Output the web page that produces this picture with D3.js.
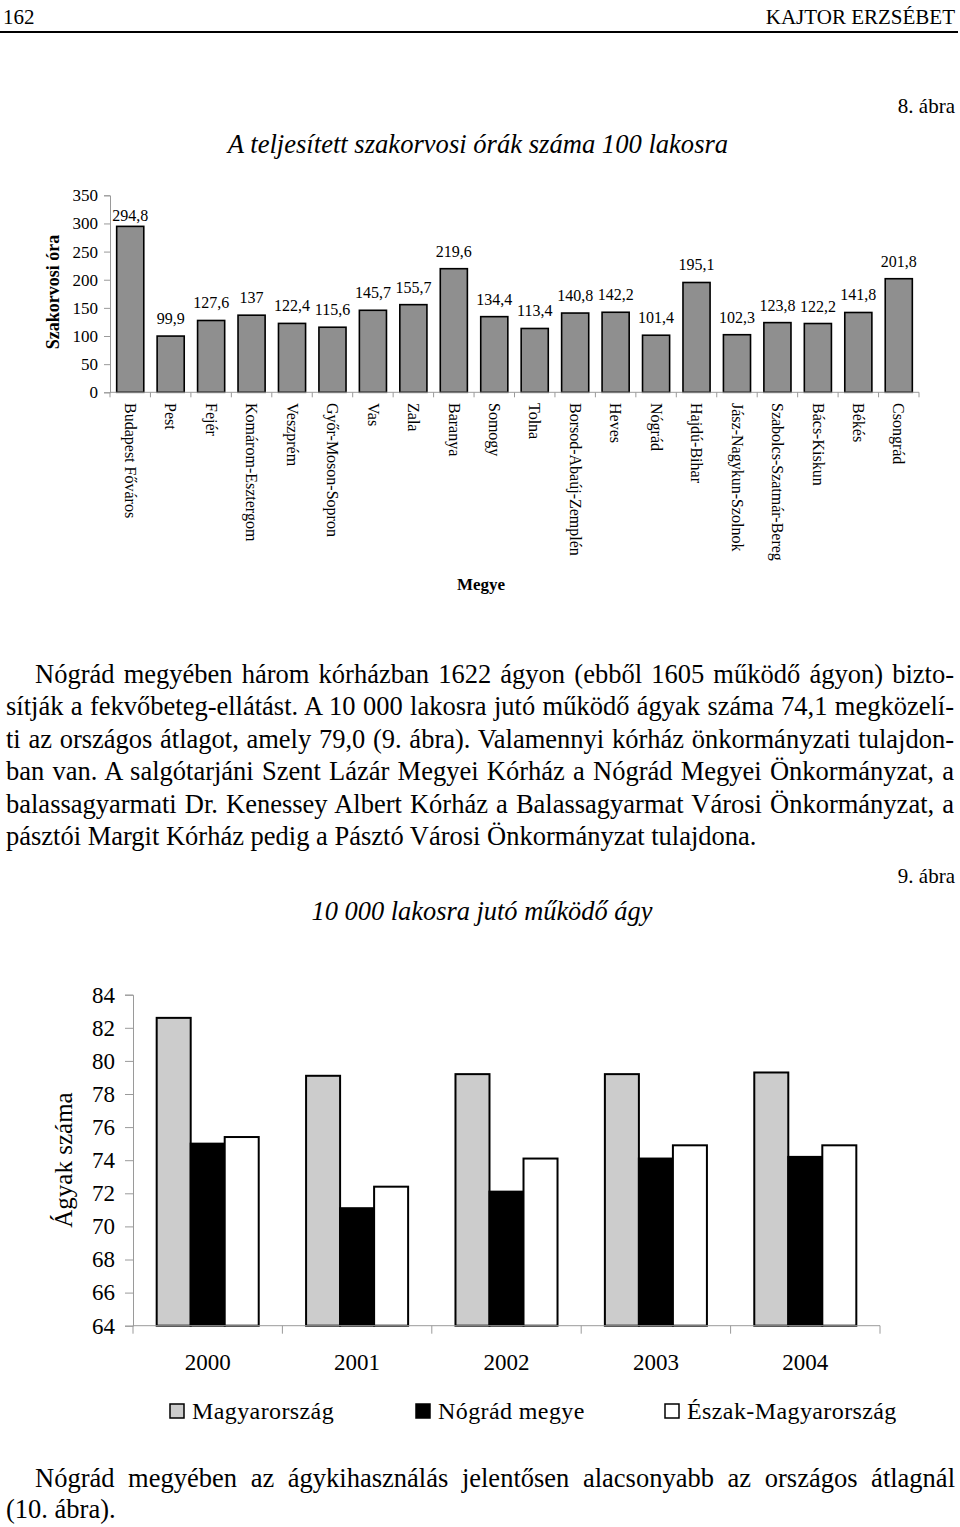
<!DOCTYPE html>
<html>
<head>
<meta charset="utf-8">
<script src="https://cdn.jsdelivr.net/npm/d3@7"></script>
<style>
  body { margin: 0; background: #fff; }
  svg { display: block; }
  text { font-family: "Liberation Serif", "Times New Roman", serif; fill: #000; }
</style>
</head>
<body>
<div id="page"></div>
<script>
const width = 960,
      height = 1527;

// 8. ábra data
const counties = ["Budapest Főváros", "Pest", "Fejér", "Komárom-Esztergom", "Veszprém",
                  "Győr-Moson-Sopron", "Vas", "Zala", "Baranya", "Somogy", "Tolna",
                  "Borsod-Abaúj-Zemplén", "Heves", "Nógrád", "Hajdú-Bihar",
                  "Jász-Nagykun-Szolnok", "Szabolcs-Szatmár-Bereg", "Bács-Kiskun", "Békés", "Csongrád"];
const hours = [294.8, 99.9, 127.6, 137, 122.4, 115.6, 145.7, 155.7, 219.6, 134.4,
               113.4, 140.8, 142.2, 101.4, 195.1, 102.3, 123.8, 122.2, 141.8, 201.8];
const hourTicks = [0, 50, 100, 150, 200, 250, 300, 350];

// 9. ábra data
const years = ["2000", "2001", "2002", "2003", "2004"];
const seriesNames = ["Magyarország", "Nógrád megye", "Észak-Magyarország"];
const magyar = [82.6, 79.1, 79.2, 79.2, 79.3];
const nograd = [75.0, 71.1, 72.1, 74.1, 74.2];
const eszak = [75.4, 72.4, 74.1, 74.9, 74.9];
const bedTicks = [64, 66, 68, 70, 72, 74, 76, 78, 80, 82, 84];

const paragraph = [
  "Nógrád megyében három kórházban 1622 ágyon (ebből 1605 működő ágyon) bizto-",
  "sítják a fekvőbeteg-ellátást. A 10 000 lakosra jutó működő ágyak száma 74,1 megközelí-",
  "ti az országos átlagot, amely 79,0 (9. ábra). Valamennyi kórház önkormányzati tulajdon-",
  "ban van. A salgótarjáni Szent Lázár Megyei Kórház a Nógrád Megyei Önkormányzat, a",
  "balassagyarmati Dr. Kenessey Albert Kórház a Balassagyarmat Városi Önkormányzat, a",
  "pásztói Margit Kórház pedig a Pásztó Városi Önkormányzat tulajdona."
];
const closing = [
  "Nógrád megyében az ágykihasználás jelentősen alacsonyabb az országos átlagnál",
  "(10. ábra)."
];

const fmt = v => String(v).replace(".", ",");
const axisGray = "#9a9a9a";

const svg = d3.select("#page")
  .append("svg")
    .attr("width", width)
    .attr("height", height);

svg.append("rect")
    .attr("width", width)
    .attr("height", height)
    .attr("fill", "#fff");

// page header
svg.append("text")
    .attr("x", 3)
    .attr("y", 24)
    .style("font-size", "21px")
    .text("162");

svg.append("text")
    .attr("x", 955)
    .attr("y", 24)
    .attr("text-anchor", "end")
    .style("font-size", "21px")
    .text("KAJTOR ERZSÉBET");

svg.append("line")
    .attr("x1", 0)
    .attr("x2", 958)
    .attr("y1", 32)
    .attr("y2", 32)
    .attr("stroke", "#000")
    .attr("stroke-width", 2);

// ---------- 8. ábra ----------
svg.append("text")
    .attr("x", 955)
    .attr("y", 113)
    .attr("text-anchor", "end")
    .style("font-size", "21px")
    .text("8. ábra");

svg.append("text")
    .attr("x", 478)
    .attr("y", 153)
    .attr("text-anchor", "middle")
    .style("font-size", "26.6px")
    .style("font-style", "italic")
    .text("A teljesített szakorvosi órák száma 100 lakosra");

const x = d3.scaleBand()
    .domain(counties)
    .range([110, 919])
    .paddingInner(0.33)
    .paddingOuter(0.165);

const y = d3.scaleLinear()
    .domain([0, 350])
    .range([392.3, 195.3]);

const hoursChart = svg.append("g");

// y axis
const yAxis = hoursChart.append("g")
    .attr("transform", "translate(110,0)")
    .call(d3.axisLeft(y).tickValues(hourTicks).tickSize(6).tickPadding(6));
yAxis.select(".domain").attr("stroke", axisGray);
yAxis.selectAll(".tick line").attr("stroke", axisGray);
yAxis.selectAll(".tick text")
    .style("font-family", "Liberation Serif, serif")
    .style("font-size", "17px");

// bars
hoursChart.append("g")
  .selectAll("rect")
  .data(hours)
  .enter()
  .append("rect")
    .attr("x", (d, i) => x(counties[i]))
    .attr("y", d => y(d))
    .attr("width", x.bandwidth())
    .attr("height", d => y(0) - y(d))
    .attr("fill", "#8f8f8f")
    .attr("stroke", "#000")
    .attr("stroke-width", 1.6);

// x axis line + ticks between bars
hoursChart.append("line")
    .attr("x1", 110)
    .attr("x2", 919)
    .attr("y1", y(0))
    .attr("y2", y(0))
    .attr("stroke", axisGray);

hoursChart.append("g")
  .selectAll("line")
  .data(d3.range(counties.length + 1))
  .enter()
  .append("line")
    .attr("x1", i => 110 + i * x.step())
    .attr("x2", i => 110 + i * x.step())
    .attr("y1", y(0))
    .attr("y2", y(0) + 5)
    .attr("stroke", axisGray);

// value labels
hoursChart.append("g")
  .selectAll("text")
  .data(hours)
  .enter()
  .append("text")
    .attr("x", (d, i) => x(counties[i]) + x.bandwidth() / 2)
    .attr("y", d => Math.max(y(d) - 12, y(350) + 26))
    .attr("text-anchor", "middle")
    .style("font-size", "16px")
    .text(fmt);

// category labels (rotated)
hoursChart.append("g")
  .selectAll("text")
  .data(counties)
  .enter()
  .append("text")
    .attr("transform", d => `translate(${x(d) + x.bandwidth() / 2},403) rotate(90)`)
    .attr("dy", "0.33em")
    .style("font-size", "16px")
    .text(d => d);

svg.append("text")
    .attr("transform", "translate(59,292) rotate(-90)")
    .attr("text-anchor", "middle")
    .style("font-size", "18px")
    .style("font-weight", "bold")
    .text("Szakorvosi óra");

svg.append("text")
    .attr("x", 481)
    .attr("y", 590)
    .attr("text-anchor", "middle")
    .style("font-size", "17px")
    .style("font-weight", "bold")
    .text("Megye");

// ---------- paragraph text ----------
function justify(node, left, right) {
  const t = d3.select(node);
  const spaces = (t.text().match(/ /g) || []).length;
  if (!spaces) return;
  const natural = node.getComputedTextLength();
  t.style("word-spacing", ((right - left - natural) / spaces) + "px");
}

const para = svg.append("g")
    .style("font-size", "26.5px");

para.selectAll("text")
  .data(paragraph)
  .enter()
  .append("text")
    .attr("x", (d, i) => i === 0 ? 35 : 6)
    .attr("y", (d, i) => 683 + i * 32.4)
    .text(d => d)
    .each(function(d, i) {
      if (i < paragraph.length - 1) justify(this, i === 0 ? 35 : 6, 954);
    });

// ---------- 9. ábra ----------
svg.append("text")
    .attr("x", 955)
    .attr("y", 883)
    .attr("text-anchor", "end")
    .style("font-size", "21px")
    .text("9. ábra");

svg.append("text")
    .attr("x", 482)
    .attr("y", 920)
    .attr("text-anchor", "middle")
    .style("font-size", "26.4px")
    .style("font-style", "italic")
    .text("10 000 lakosra jutó működő ágy");

const x0 = d3.scaleBand()
    .domain(years)
    .range([133, 880])
    .paddingInner(0.317)
    .paddingOuter(0.1585);

const x1 = d3.scaleBand()
    .domain(seriesNames)
    .range([0, x0.bandwidth()]);

const yb = d3.scaleLinear()
    .domain([64, 84])
    .range([1325.7, 994.7]);

const colors = d3.scaleOrdinal()
    .domain(seriesNames)
    .range(["#cccccc", "#000000", "#ffffff"]);

const beds = years.map((yr, i) => ({
  year: yr,
  values: [
    { key: seriesNames[0], value: magyar[i] },
    { key: seriesNames[1], value: nograd[i] },
    { key: seriesNames[2], value: eszak[i] }
  ]
}));

const bedsChart = svg.append("g");

const ybAxis = bedsChart.append("g")
    .attr("transform", "translate(133,0)")
    .call(d3.axisLeft(yb).tickValues(bedTicks).tickSize(8).tickPadding(10));
ybAxis.select(".domain").attr("stroke", axisGray);
ybAxis.selectAll(".tick line").attr("stroke", axisGray);
ybAxis.selectAll(".tick text")
    .style("font-family", "Liberation Serif, serif")
    .style("font-size", "23px");

bedsChart.append("g")
  .selectAll("g")
  .data(beds)
  .enter()
  .append("g")
    .attr("transform", d => `translate(${x0(d.year)},0)`)
  .selectAll("rect")
  .data(d => d.values)
  .enter()
  .append("rect")
    .attr("x", d => x1(d.key))
    .attr("y", d => yb(d.value))
    .attr("width", x1.bandwidth())
    .attr("height", d => yb(64) - yb(d.value))
    .attr("fill", d => colors(d.key))
    .attr("stroke", "#000")
    .attr("stroke-width", 2);

bedsChart.append("line")
    .attr("x1", 133)
    .attr("x2", 880)
    .attr("y1", yb(64))
    .attr("y2", yb(64))
    .attr("stroke", axisGray);

bedsChart.append("g")
  .selectAll("line")
  .data(d3.range(years.length + 1))
  .enter()
  .append("line")
    .attr("x1", i => 133 + i * x0.step())
    .attr("x2", i => 133 + i * x0.step())
    .attr("y1", yb(64))
    .attr("y2", yb(64) + 8)
    .attr("stroke", axisGray);

bedsChart.append("g")
  .selectAll("text")
  .data(years)
  .enter()
  .append("text")
    .attr("x", d => x0(d) + x0.bandwidth() / 2)
    .attr("y", 1370)
    .attr("text-anchor", "middle")
    .style("font-size", "23px")
    .text(d => d);

svg.append("text")
    .attr("transform", "translate(72,1160) rotate(-90)")
    .attr("text-anchor", "middle")
    .style("font-size", "25px")
    .text("Ágyak száma");

// legend
const legendX = [170, 416, 665];
const legend = bedsChart.append("g")
  .selectAll("g")
  .data(seriesNames)
  .enter()
  .append("g")
    .attr("transform", (d, i) => `translate(${legendX[i]},1404)`);

legend.append("rect")
    .attr("width", 14)
    .attr("height", 14)
    .attr("fill", d => colors(d))
    .attr("stroke", "#000")
    .attr("stroke-width", 1.5);

legend.append("text")
    .attr("x", 22)
    .attr("y", 15)
    .style("font-size", "24px")
    .style("letter-spacing", "0.4px")
    .text(d => d);

// closing paragraph
svg.append("g")
    .style("font-size", "26.5px")
  .selectAll("text")
  .data(closing)
  .enter()
  .append("text")
    .attr("x", (d, i) => i === 0 ? 35 : 6)
    .attr("y", (d, i) => 1487 + i * 31)
    .text(d => d)
    .each(function(d, i) {
      if (i === 0) justify(this, 35, 955);
    });
</script>
</body>
</html>
